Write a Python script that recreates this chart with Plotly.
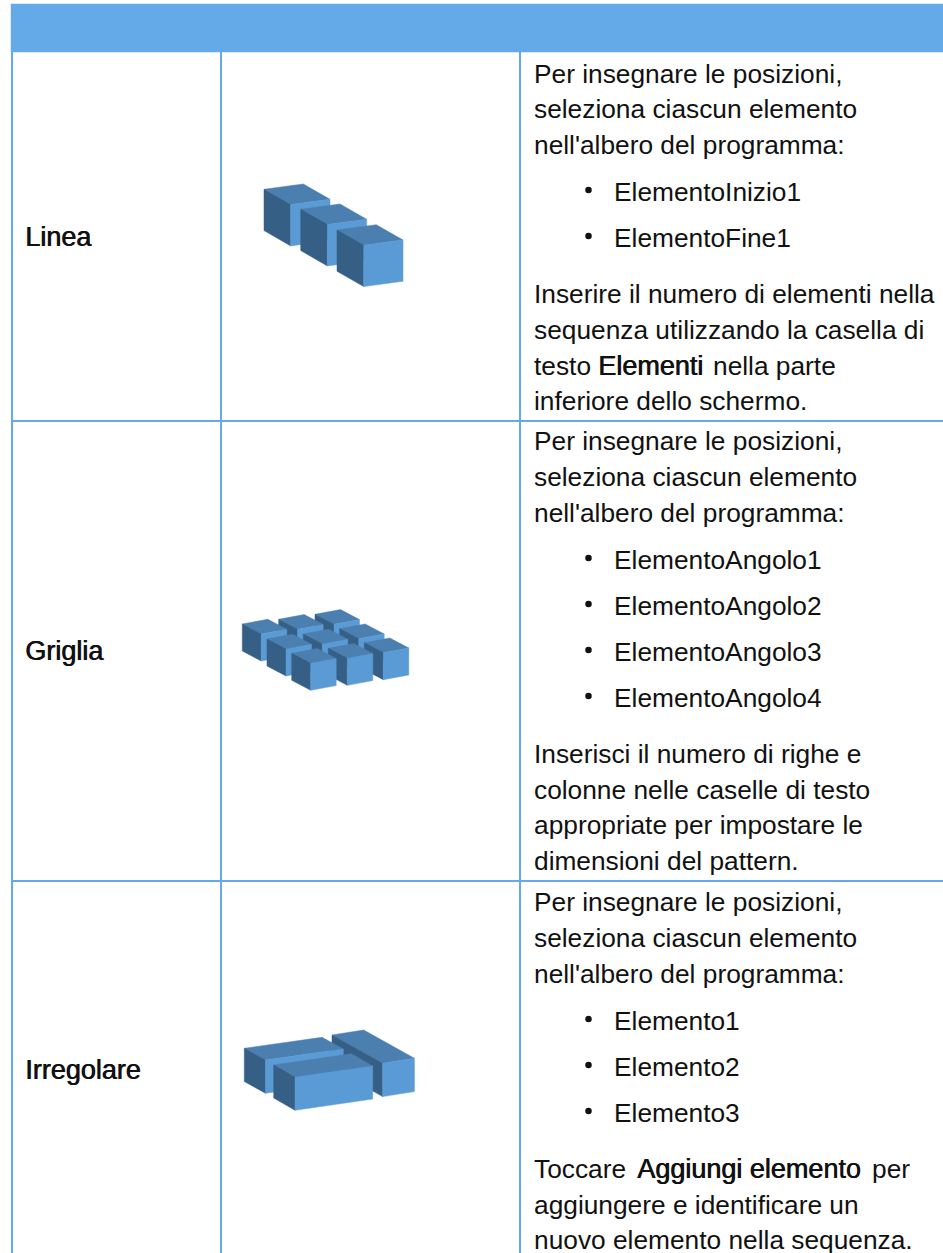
import plotly.graph_objects as go

W, H = 943, 1253
HEADER = "#64a9e8"
TOP, LEFT, RIGHT = "#4a7fb0", "#365f85", "#5b9bd5"
FONT = "Liberation Sans"
SIZE = 26.3
BOLD_SIZE = 27
INK = "#111111"
FAUX_BOLD = "0.7px 0 0 #111111"

header_box = [11, 943, 4, 52]
column_lines = [12, 221, 520]
row_lines = [421, 881]

# Cuboids: (left corner x, y, dx-front, dy-front, dx-side, dy-side, height) in page px
line_cubes = [(264, 189.3, 26.7, 15.3, 39.3, -5.3, 41.3),
              (300.7, 209.3, 26.7, 15.3, 39.3, -5.3, 41.3),
              (337, 230, 26.7, 15.3, 39.3, -5.3, 41.3)]
grid_cubes = [(315, 614.3, 19, 10, 25.5, -4.7, 27),
              (339.7, 628.7, 19, 10, 25.5, -4.7, 27),
              (364.3, 642.7, 19, 10, 25.5, -4.7, 27),
              (278.7, 619.3, 19, 10, 25.5, -4.7, 27),
              (303.3, 634, 19, 10, 25.5, -4.7, 27),
              (328.3, 648.3, 19, 10, 25.5, -4.7, 27),
              (242.3, 624, 19, 10, 25.5, -4.7, 27),
              (267, 639, 19, 10, 25.5, -4.7, 27),
              (291.7, 653.3, 19, 10, 25.5, -4.7, 27)]
irregular_cubes = [(332, 1035, 50.7, 28.3, 31.7, -5, 33.3),
                   (244.3, 1048.3, 21.3, 11.7, 77.7, -11, 33.3),
                   (273.7, 1065, 21.3, 12.3, 77.7, -11.3, 33)]

row_labels = [("Linea", 24, 237), ("Griglia", 24, 651), ("Irregolare", 24, 1070)]

body_lines = [
    (533, 74, "Per insegnare le posizioni,"),
    (533, 109, "seleziona ciascun elemento"),
    (533, 145, "nell'albero del programma:"),
    (613, 192, "ElementoInizio1"),
    (613, 238, "ElementoFine1"),
    (533, 294, "Inserire il numero di elementi nella"),
    (533, 330, "sequenza utilizzando la casella di"),
    (533, 366, "testo"),
    (712, 366, "nella parte"),
    (533, 401, "inferiore dello schermo."),
    (533, 441, "Per insegnare le posizioni,"),
    (533, 477, "seleziona ciascun elemento"),
    (533, 513, "nell'albero del programma:"),
    (613, 560, "ElementoAngolo1"),
    (613, 606, "ElementoAngolo2"),
    (613, 652, "ElementoAngolo3"),
    (613, 698, "ElementoAngolo4"),
    (533, 754, "Inserisci il numero di righe e"),
    (533, 790, "colonne nelle caselle di testo"),
    (533, 825, "appropriate per impostare le"),
    (533, 861, "dimensioni del pattern."),
    (533, 902, "Per insegnare le posizioni,"),
    (533, 938, "seleziona ciascun elemento"),
    (533, 974, "nell'albero del programma:"),
    (613, 1021, "Elemento1"),
    (613, 1067, "Elemento2"),
    (613, 1113, "Elemento3"),
    (533, 1169, "Toccare"),
    (871, 1169, "per"),
    (533, 1205, "aggiungere e identificare un"),
    (533, 1240, "nuovo elemento nella sequenza."),
]
bold_lines = [
    (597, 366, "Elementi"),
    (636, 1169, "Aggiungi elemento"),
]
bullets = [(588.5, 190), (588.5, 236), (588.5, 558), (588.5, 604), (588.5, 650), (588.5, 696),
           (588.5, 1019), (588.5, 1065), (588.5, 1111)]

fig = go.Figure()


def poly(xs, ys, color):
    fig.add_trace(go.Scatter(x=xs + xs[:1], y=ys + ys[:1], mode="lines", fill="toself",
                             fillcolor=color, line=dict(color=color, width=0.5),
                             hoverinfo="skip", showlegend=False))


# header
x0, x1, y0, y1 = header_box
poly([x0, x1, x1, x0], [y0, y0, y1, y1], HEADER)

# grid lines
for cx in column_lines:
    fig.add_trace(go.Scatter(x=[cx, cx], y=[52, H], mode="lines",
                             line=dict(color=HEADER, width=2), hoverinfo="skip", showlegend=False))
for ry in row_lines:
    fig.add_trace(go.Scatter(x=[12, W], y=[ry, ry], mode="lines",
                             line=dict(color=HEADER, width=2), hoverinfo="skip", showlegend=False))

# cuboids
for group in (line_cubes, grid_cubes, irregular_cubes):
    for (x, y, fx, fy, sx, sy, h) in group:
        poly([x, x + fx, x + fx + sx, x + sx], [y, y + fy, y + fy + sy, y + sy], TOP)
        poly([x, x + fx, x + fx, x], [y, y + fy, y + fy + h, y + h], LEFT)
        poly([x + fx, x + fx + sx, x + fx + sx, x + fx],
             [y + fy, y + fy + sy, y + fy + sy + h, y + fy + h], RIGHT)

# bullets
fig.add_trace(go.Scatter(x=[b[0] for b in bullets], y=[b[1] for b in bullets], mode="markers",
                         marker=dict(color=INK, size=6.5), hoverinfo="skip", showlegend=False))

anns = []


def label(x, y, t, bold=False):
    font = dict(family=FONT, size=BOLD_SIZE if bold else SIZE, color=INK)
    if bold:
        font["shadow"] = FAUX_BOLD
    anns.append(dict(x=x, y=y, text=t, xref="x", yref="y", xanchor="left", yanchor="middle",
                     showarrow=False, align="left", borderpad=0, font=font))


for (x, y, t) in body_lines:
    label(x, y, t)
for (x, y, t) in bold_lines:
    label(x, y, t, bold=True)
for (t, x, y) in row_labels:
    label(x, y, t, bold=True)

fig.update_layout(width=W, height=H, margin=dict(l=0, r=0, t=0, b=0),
                  paper_bgcolor="white", plot_bgcolor="white", showlegend=False,
                  xaxis=dict(range=[0, W], visible=False, fixedrange=True),
                  yaxis=dict(range=[H, 0], visible=False, fixedrange=True),
                  annotations=anns)
fig.write_html("out.html", config=dict(displayModeBar=False),
               post_script="document.body.style.margin='0';document.body.style.overflow='hidden';")
